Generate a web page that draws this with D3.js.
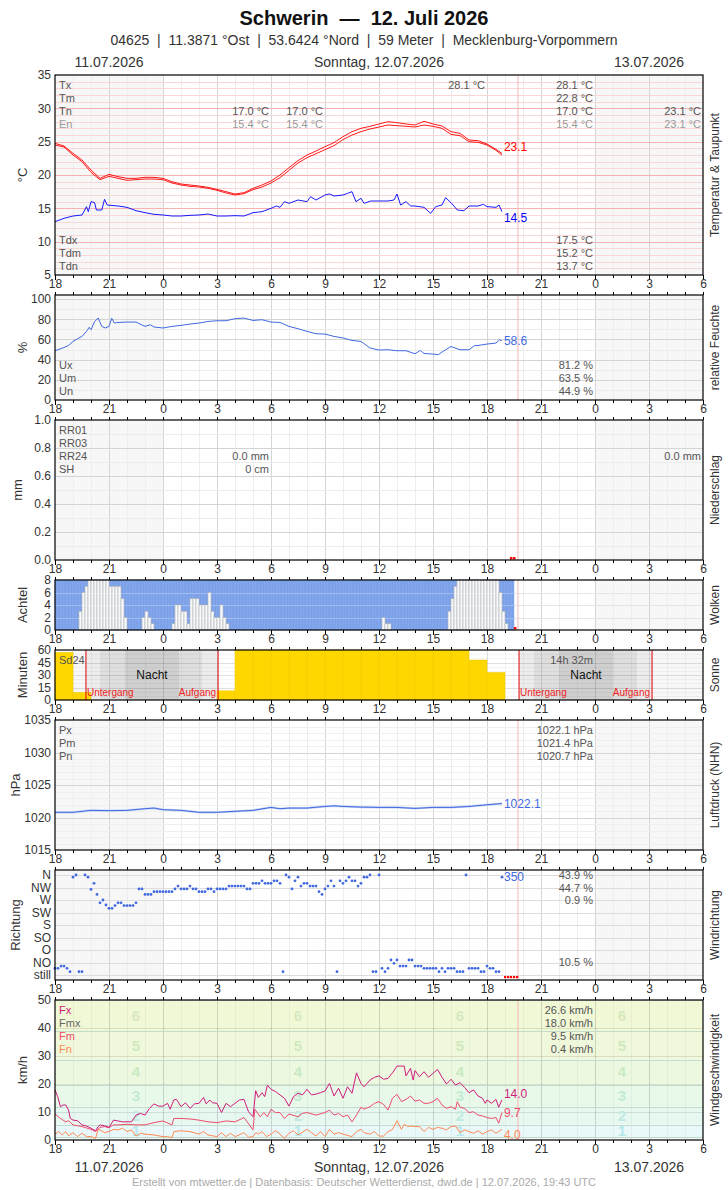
<!DOCTYPE html>
<html>
<head>
<meta charset="utf-8">
<script src="https://cdn.jsdelivr.net/npm/d3@7/dist/d3.min.js"></script>
<style>
  body { margin: 0; background: #fff; }
  text { font-family: "Liberation Sans", Arial, sans-serif; }
</style>
</head>
<body>
<div id="chart"></div>
<script>
// ---- data (hour offsets counted from 11.07.2026 18:00 UTC) ----
const tempTimes = [0,0.5,1,1.5,2,2.5,3,3.5,4,4.5,5,5.5,6,6.5,7,7.5,8,8.5,9,9.5,10,10.5,11,11.5,12,12.5,13,13.5,14,14.5,15,15.5,16,16.5,17,17.5,18,18.5,19,19.5,20,20.5,21,21.5,22,22.5,23,23.5,24,24.5,24.83]
const tempUpper = [24.75,24.35,23.25,22.25,20.75,19.5,20.1,19.75,19.5,19.5,19.65,19.65,19.5,19.0,18.65,18.5,18.35,18.15,17.85,17.5,17.15,17.35,18.0,18.5,19.1,20.0,21.1,22.15,23.0,23.6,24.25,24.85,25.75,26.5,27.0,27.3,27.65,28.0,27.85,27.65,27.5,28.05,27.65,27.35,26.5,26.25,25.25,25.15,24.65,23.85,23.25]
const tempLower = [24.5,24.2,23.0,22.0,20.4,19.3,19.8,19.5,19.2,19.3,19.4,19.4,19.3,18.8,18.5,18.3,18.2,18.0,17.7,17.3,17.0,17.2,17.8,18.2,18.8,19.6,20.7,21.8,22.6,23.2,23.8,24.4,25.3,26.0,26.5,26.9,27.2,27.5,27.4,27.3,27.2,27.5,27.3,27.0,26.1,25.9,25.0,24.9,24.5,23.7,23.0]
const dewPoint = [[0,13.0],[0.5,13.5],[1,13.85],[1.5,14.0],[1.75,15.25],[1.85,14.5],[2.0,16.0],[2.2,15.85],[2.3,14.75],[2.6,14.75],[2.75,16.35],[2.9,15.5],[3.5,15.35],[4,15.15],[4.5,14.65],[5,14.35],[5.5,14.1],[6,14.0],[6.5,13.85],[7,13.85],[7.5,13.95],[8,14.0],[8.5,14.15],[9,13.85],[9.5,13.85],[10,13.9],[10.5,13.85],[11,14.35],[11.5,14.5],[12,15.0],[12.3,15.35],[12.5,15.15],[12.75,16.0],[13,15.75],[13.5,16.25],[14,16.0],[14.2,16.75],[14.5,16.25],[15,17.0],[15.25,17.15],[15.5,16.85],[16,17.0],[16.25,17.25],[16.5,17.5],[16.72,16.0],[17.0,16.5],[17.17,15.75],[17.54,16.1],[18,16.1],[18.5,16.1],[18.83,16.25],[19,17.15],[19.2,15.5],[19.5,16.0],[19.76,15.35],[20,15.35],[20.5,15.15],[20.87,14.25],[21.15,15.25],[21.5,15.5],[21.7,16.6],[22,15.85],[22.35,14.75],[22.72,14.65],[23,15.35],[23.5,15.35],[23.8,15.6],[24,15.25],[24.5,15.15],[24.67,15.5],[24.83,14.5]]
const humidity = [[0,48.8],[0.5,52],[0.75,54],[1,58],[1.25,60.7],[1.5,63],[1.75,68],[1.9,72],[2.0,69.6],[2.2,77.8],[2.4,81.2],[2.6,72.9],[2.8,71.3],[3.0,72.9],[3.15,81.0],[3.3,76.2],[3.5,76.8],[4,77.2],[4.5,77.2],[5,72.9],[5.3,74.5],[5.5,72.3],[6,71.3],[6.5,72.9],[7,73.9],[7.5,75.2],[8,76.2],[8.5,77.8],[9,78.5],[9.5,78.5],[10,80.5],[10.5,81.2],[11,78.8],[11.5,79.5],[12,77.2],[12.5,76.8],[13,72.9],[13.5,70.6],[14,68],[14.5,65.6],[15,65.3],[15.5,63],[16,61.4],[16.5,59],[17,58],[17.5,51.5],[18,49.5],[18.5,49.8],[19,48.8],[19.5,48.8],[20,45.8],[20.3,49.1],[20.5,46.1],[21,45.5],[21.3,44.9],[21.5,47.5],[22,53],[22.5,49.8],[23,49.8],[23.3,53.8],[23.5,54],[24,55.4],[24.5,56.4],[24.7,59.7],[24.83,58.6]]
const rainMissing = [25.33, 25.5]
// cloud cover in eighths, 10-minute steps from 18:00
const cloudCover = [0,0,0,0,0,0,0,0,3,6, 7,8,8,8,8,8,8,8,7,7, 7,7,5,2,0,0,0,0,0,2, 3,2,1,0,0,0,0,0,0,1, 4,4,3,3,1,5,5,5,4,4, 4,6,3,2,2,4,2,1,0,0,
  0,0,0,0,0,0,0,0,0,0, 0,0,0,0,0,0,0,0,0,0, 0,0,0,0,0,0,0,0,0,0, 0,0,0,0,0,0,0,0,0,0, 0,0,0,0,0,0,0,0,0,2, 1,1,0,0,0,0,0,0,0,0,
  0,0,0,0,0,0,0,0,0,0, 0,3,5,7,8,8,8,8,8,8, 8,8,8,8,8,8,8,8,6,3, 1,0,0]
const cloudMissing = [25.55]
// sunshine minutes per hour from 18:00
const sunMinutes = [57,9,0,0,0,0,0,0,0,11,60,60,60,60,60,60,60,60,60,60,60,60,60,48,33]
const sunsets = [1.72, 25.78]
const civilDusk = [2.5, 26.61]
const nauticalDusk = [3.89, 28.0]
const nauticalDawn = [6.89, 31.0]
const civilDawn = [8.17, 32.33]
const sunrises = [9.06, 33.17]
const pressure = [[0,1020.8],[1,1020.8],[2,1021.1],[3,1021.05],[4,1021.1],[5,1021.35],[5.5,1021.45],[6,1021.2],[7,1021.1],[8,1020.8],[9,1020.8],[10,1020.95],[11,1021.1],[12,1021.55],[12.5,1021.35],[13,1021.45],[14,1021.45],[15,1021.7],[15.5,1021.8],[16,1021.7],[17,1021.6],[18,1021.55],[19,1021.55],[20,1021.4],[21,1021.55],[22,1021.55],[23,1021.7],[24,1021.95],[24.83,1022.15]]
// wind direction in degrees, 10-minute steps from 18:00
const windDir = [24,24,32,32,24,12,352,360,12,12, 360,352,308,330,290,260,270,252,240,240,
  250,260,260,250,250,250,250,260,310,310, 290,290,290,300,300,300,300,300,300,300,
  310,320,310,310,310,320,310,310,300,300, 300,310,310,300,310,310,310,310,320,320,
  320,320,320,320,310,310,330,330,330,339, 330,330,330,339,339,330,12,360,352,310,
  339,352,320,330,330,320,320,320,300,290, 310,320,339,320,12,339,330,339,352,339,
  339,320,330,352,352,360,12,12,360,24, 12,24,54,42,54,32,32,32,54,54,
  32,32,32,24,24,24,24,24,12,24, 12,24,24,24,12,12,12,360,24,24,
  24,24,12,12,32,24,24,12,12,352]
const dirMissing = [25.0, 25.17, 25.33, 25.5, 25.67]
const dirLabels = ["still","NO","O","SO","S","SW","W","NW","N"]
const gustFx = [[0,17.9],[0.15,15.5],[0.3,11.9],[0.45,12.5],[0.6,12.5],[0.75,10.7],[0.85,7.7],[1,7.1],[1.25,6.9],[1.5,5.4],[1.75,5.0],[2,4.2],[2.25,3.3],[2.4,4.8],[2.5,5.4],[2.75,5.1],[3,4.5],[3.25,7.1],[3.5,6.8],[3.75,6.5],[4,6.5],[4.25,6.5],[4.5,8.9],[4.75,9.5],[5,8.9],[5.25,11.3],[5.5,12.9],[5.75,12.1],[6,12.1],[6.25,13.1],[6.4,11.0],[6.6,14.3],[6.75,14.5],[7,11.9],[7.25,13.3],[7.5,11.3],[7.75,12.9],[8,13.1],[8.25,15.2],[8.4,12.9],[8.6,14.3],[8.75,13.3],[9,13.1],[9.25,9.8],[9.5,13.1],[9.75,11.9],[10,13.1],[10.25,14.3],[10.5,14.5],[10.75,10.1],[11,8.3],[11.15,17.6],[11.3,15.2],[11.5,16.9],[11.65,15.5],[11.8,19.6],[12,18.1],[12.25,17.3],[12.5,16.1],[12.75,14.9],[13,12.1],[13.25,15.5],[13.5,16.7],[13.75,16.1],[14,18.1],[14.25,16.1],[14.5,16.4],[14.75,16.9],[15,17.5],[15.25,20.2],[15.5,15.7],[15.75,18.5],[16,14.9],[16.25,19.0],[16.5,16.7],[16.75,24.0],[17,20.2],[17.17,19.0],[17.5,21.4],[17.75,22.4],[18,22.9],[18.25,21.7],[18.5,22.0],[18.75,24.0],[19,26.4],[19.25,26.4],[19.4,26.4],[19.5,22.9],[19.75,25.6],[19.9,21.4],[20,24.8],[20.25,22.6],[20.5,24.4],[20.75,22.4],[21,23.8],[21.25,25.2],[21.5,22.4],[21.75,20.0],[22,21.7],[22.25,19.6],[22.5,20.5],[22.75,18.8],[23,16.9],[23.25,17.9],[23.5,15.7],[23.75,14.9],[23.9,13.1],[24,14.3],[24.25,13.1],[24.5,14.5],[24.65,11.7],[24.83,14.3]]
const meanFm = [[0,9.3],[0.3,7.7],[0.6,6.5],[0.75,6.9],[1,5.4],[1.5,4.8],[2,3.8],[2.25,3.0],[2.5,4.5],[2.75,4.8],[3,4.4],[3.25,5.4],[3.5,5.4],[4,5.6],[4.5,5.4],[5,5.4],[5.5,6.2],[6,6.8],[6.5,5.4],[6.6,7.7],[7,7.7],[7.5,7.5],[8,7.1],[8.5,6.5],[9,6.2],[9.5,6.8],[10,6.5],[10.5,8.0],[11,3.6],[11.1,11.0],[11.4,8.3],[11.6,9.8],[11.8,8.3],[12,11.0],[12.25,9.8],[12.5,9.8],[12.75,7.7],[13,9.3],[13.5,8.3],[13.75,9.5],[14,9.8],[14.5,8.9],[15,9.8],[15.25,10.7],[15.5,8.9],[15.75,9.5],[16,8.3],[16.25,8.9],[16.5,6.5],[16.75,8.9],[17,11.7],[17.17,11.0],[17.5,11.9],[17.75,13.1],[18,13.7],[18.25,12.7],[18.5,10.7],[18.75,14.9],[19,16.3],[19.25,13.7],[19.5,14.5],[19.75,15.7],[20,13.9],[20.25,14.3],[20.5,13.1],[20.75,13.1],[21,13.7],[21.25,14.9],[21.5,12.5],[21.75,11.3],[22,11.9],[22.25,11.0],[22.35,13.7],[22.5,11.7],[22.75,11.3],[23,9.8],[23.25,10.1],[23.5,8.9],[23.75,8.6],[24,8.0],[24.25,7.7],[24.5,8.0],[24.65,6.0],[24.83,9.8]]
const minFn = [[0,2.1],[0.2,3.0],[0.4,1.8],[0.6,3.0],[0.75,1.5],[1,2.6],[1.25,1.2],[1.5,2.4],[1.75,1.2],[2,1.2],[2.25,0.6],[2.4,3.8],[2.5,3.6],[2.75,2.6],[3,3.0],[3.25,3.8],[3.5,3.6],[3.75,4.2],[4,3.0],[4.25,3.6],[4.5,1.4],[4.75,2.4],[5,2.1],[5.5,1.8],[6,1.2],[6.25,1.2],[6.5,0.8],[6.6,3.0],[7,3.3],[7.5,3.0],[8,2.1],[8.25,3.0],[8.5,1.8],[9,1.2],[9.25,2.6],[9.5,1.2],[9.75,2.4],[10,1.2],[10.5,2.6],[10.75,1.0],[11,1.2],[11.15,2.6],[11.3,2.1],[11.5,3.0],[11.75,1.2],[12,2.1],[12.25,3.3],[12.5,2.1],[12.75,0.6],[13,2.4],[13.25,3.3],[13.5,1.8],[14,3.8],[14.25,2.6],[14.5,1.4],[14.75,3.0],[15,1.2],[15.25,3.8],[15.5,2.1],[15.75,2.6],[16,2.1],[16.5,1.2],[16.75,3.0],[17,3.8],[17.17,2.6],[17.5,2.1],[17.75,3.0],[18,1.4],[18.25,1.4],[18.5,3.0],[18.75,3.8],[19,6.9],[19.25,3.8],[19.4,5.6],[19.6,4.8],[19.75,5.0],[20,4.8],[20.25,4.8],[20.5,3.0],[20.75,4.5],[21,3.8],[21.25,4.5],[21.5,4.2],[21.75,3.6],[22,4.8],[22.25,5.0],[22.5,2.6],[22.75,3.6],[23,3.0],[23.25,2.4],[23.5,3.3],[23.75,2.1],[24,3.0],[24.25,3.6],[24.5,2.4],[24.83,3.8]]
const beaufortEdges = [0, 1.1, 5.5, 11.9, 19.7, 28.7, 38.8, 49.9, 50]
const beaufortLabelHours = [4.5, 13.5, 22.5, 31.5]
const nowHour = 25.72

// layout
const t0 = Date.UTC(2026, 6, 11, 18)
const hr = h => new Date(t0 + h * 3600e3)
const X0 = 55, X1 = 703
const x = d3.scaleUtc().domain([hr(0), hr(36)]).range([X0, X1])
const grayRanges = [[0, 6], [30, 36]]
const FONT = '"Liberation Sans", Arial, sans-serif'

buildChart()

function buildChart() {
    let svg = d3.select("#chart").append("svg")
        .attr("width", 728).attr("height", 1190)

    // header
    svg.append("text").attr("x", 364).attr("y", 25).attr("text-anchor", "middle")
        .attr("font-size", 20).attr("font-weight", "bold").attr("fill", "#111")
        .text("Schwerin\u00a0\u00a0—\u00a0\u00a012. Juli 2026")
    svg.append("text").attr("x", 364).attr("y", 45).attr("text-anchor", "middle")
        .attr("font-size", 14).attr("fill", "#333")
        .text("04625\u00a0\u00a0|\u00a0\u00a011.3871 °Ost\u00a0\u00a0|\u00a0\u00a053.6424 °Nord\u00a0\u00a0|\u00a0\u00a059 Meter\u00a0\u00a0|\u00a0\u00a0Mecklenburg-Vorpommern")
    dateRow(svg, 67)
    dateRow(svg, 1172)
    svg.append("text").attr("x", 364).attr("y", 1186).attr("text-anchor", "middle")
        .attr("font-size", 11).attr("fill", "#aaa")
        .text("Erstellt von mtwetter.de | Datenbasis: Deutscher Wetterdienst, dwd.de | 12.07.2026, 19:43 UTC")

    drawTemp(svg)
    drawHumidity(svg)
    drawRain(svg)
    drawClouds(svg)
    drawSun(svg)
    drawPressure(svg)
    drawDirection(svg)
    drawWind(svg)
}

function dateRow(svg, y) {
    [[3, "11.07.2026"], [18, "Sonntag, 12.07.2026"], [33, "13.07.2026"]].forEach(([h, s]) => {
        svg.append("text").attr("x", x(hr(h))).attr("y", y).attr("text-anchor", "middle")
            .attr("font-size", 14).attr("fill", "#333").text(s)
    })
}

// ---- panel helpers ----
function panel(svg, top, bottom, domain, shade = true) {
    let c = { top, bottom }
    c.y = d3.scaleLinear().domain(domain).range([bottom, top])
    c.g = svg.append("g")
    c.g.append("rect").attr("x", X0).attr("y", top).attr("width", X1 - X0).attr("height", bottom - top).attr("fill", "#fff")
    if (shade) grayRanges.forEach(([a, b]) => {
        c.g.append("rect").attr("x", x(hr(a))).attr("y", top).attr("width", x(hr(b)) - x(hr(a)))
            .attr("height", bottom - top).attr("fill", "#f7f7f7")
    })
    return c
}

function hGrid(c, values, color) {
    c.g.append("g").selectAll("line").data(values).enter().append("line")
        .attr("x1", X0).attr("x2", X1)
        .attr("y1", d => Math.round(c.y(d)) + 0.5).attr("y2", d => Math.round(c.y(d)) + 0.5)
        .attr("stroke", color).attr("stroke-width", 1)
}

function vGrid(c, minor = "#eeeeee", major = "#d6d6d6") {
    let hours = d3.range(1, 36)
    c.g.append("g").selectAll("line").data(hours).enter().append("line")
        .attr("x1", d => x(hr(d)) + 0.5).attr("x2", d => x(hr(d)) + 0.5)
        .attr("y1", c.top).attr("y2", c.bottom)
        .attr("stroke", d => d % 3 === 0 ? major : minor)
}

function nowLine(c) {
    c.g.append("line").attr("x1", x(hr(nowHour))).attr("x2", x(hr(nowHour)))
        .attr("y1", c.top).attr("y2", c.bottom).attr("stroke", "#f6b6b6")
}

function frame(c, topTicks = true) {
    c.g.append("rect").attr("x", X0).attr("y", c.top).attr("width", X1 - X0).attr("height", c.bottom - c.top)
        .attr("fill", "none").attr("stroke", "#000").attr("stroke-width", 1.2)
    let minor = d3.axisBottom(x).ticks(d3.utcHour.every(1)).tickFormat("").tickSize(3)
    let major = d3.axisBottom(x).ticks(d3.utcHour.every(3)).tickFormat(d3.utcFormat("%-H")).tickSize(5).tickPadding(-1)
    let gm = c.g.append("g").attr("transform", `translate(0,${c.bottom})`).call(minor)
    gm.select(".domain").remove()
    let ax = c.g.append("g").attr("transform", `translate(0,${c.bottom})`).call(major)
    ax.select(".domain").remove()
    ax.selectAll("text").attr("font-size", 12).attr("fill", "#333").attr("font-family", FONT)
    if (topTicks) {
        let tm = c.g.append("g").attr("transform", `translate(0,${c.top})`)
            .call(d3.axisTop(x).ticks(d3.utcHour.every(1)).tickFormat("").tickSize(3))
        tm.select(".domain").remove()
    }
}

function yAxis(c, values, fmt) {
    let ax = c.g.append("g").attr("transform", `translate(${X0},0)`)
        .call(d3.axisLeft(c.y).tickValues(values).tickFormat(fmt).tickSize(0).tickPadding(4))
    ax.select(".domain").remove()
    ax.selectAll("text").attr("font-size", 12).attr("fill", "#333").attr("font-family", FONT)
}

function titles(c, left, leftX, right) {
    let mid = (c.top + c.bottom) / 2
    c.g.append("text").attr("transform", `translate(${leftX},${mid}) rotate(-90)`).attr("text-anchor", "middle")
        .attr("dy", "0.35em").attr("font-size", 13).attr("fill", "#333").text(left)
    c.g.append("text").attr("transform", `translate(715,${mid}) rotate(-90)`).attr("text-anchor", "middle")
        .attr("dy", "0.35em").attr("font-size", 12).attr("fill", "#333").text(right)
}

function note(c, s, px, py, anchor = "start", color = "#555", size = 11) {
    c.g.append("text").attr("x", px).attr("y", py).attr("text-anchor", anchor)
        .attr("font-size", size).attr("fill", color).text(s)
}

function pathOf(c, pts, color, width = 1) {
    let line = d3.line().x(d => x(hr(d[0]))).y(d => c.y(d[1]))
    c.g.append("path").datum(pts).attr("d", line).attr("fill", "none")
        .attr("stroke", color).attr("stroke-width", width).attr("stroke-linejoin", "round")
}

function endLabel(c, pts, s, color, dy) {
    let last = pts[pts.length - 1]
    c.g.append("text").attr("x", x(hr(last[0])) + 2).attr("y", c.y(last[1]) + dy)
        .attr("font-size", 12).attr("fill", color).text(s)
}

// ---- panels ----
function drawTemp(svg) {
    let c = panel(svg, 75, 275, [5, 35])
    vGrid(c)
    hGrid(c, d3.range(6, 35).filter(v => v % 5), "#fbd6d6")
    hGrid(c, [10, 15, 20, 25, 30], "#f5b2b2")
    nowLine(c)
    let upper = tempTimes.map((t, i) => [t, tempUpper[i]])
    let lower = tempTimes.map((t, i) => [t, tempLower[i]])
    pathOf(c, upper, "#ff0000", 0.9)
    pathOf(c, lower, "#ff0000", 0.9)
    pathOf(c, dewPoint, "#0000ff", 0.9)
    endLabel(c, upper, "23.1", "#ff0000", -2)
    endLabel(c, dewPoint, "14.5", "#0000ff", 10)

    note(c, "Tx", 59, 89); note(c, "Tm", 59, 102); note(c, "Tn", 59, 115); note(c, "En", 59, 128, "start", "#999")
    note(c, "17.0 °C", 269, 115, "end"); note(c, "15.4 °C", 269, 128, "end", "#999")
    note(c, "17.0 °C", 323, 115, "end"); note(c, "15.4 °C", 323, 128, "end", "#999")
    note(c, "28.1 °C", 485, 89, "end")
    note(c, "28.1 °C", 593, 89, "end"); note(c, "22.8 °C", 593, 102, "end")
    note(c, "17.0 °C", 593, 115, "end"); note(c, "15.4 °C", 593, 128, "end", "#999")
    note(c, "23.1 °C", 701, 115, "end"); note(c, "23.1 °C", 701, 128, "end", "#999")
    note(c, "Tdx", 59, 244); note(c, "Tdm", 59, 257); note(c, "Tdn", 59, 270)
    note(c, "17.5 °C", 593, 244, "end"); note(c, "15.2 °C", 593, 257, "end"); note(c, "13.7 °C", 593, 270, "end")

    frame(c, false)
    yAxis(c, [5, 10, 15, 20, 25, 30, 35], d3.format("d"))
    titles(c, "°C", 22, "Temperatur & Taupunkt")
}

function drawHumidity(svg) {
    let c = panel(svg, 295, 400, [0, 104])
    vGrid(c)
    hGrid(c, [10, 30, 50, 70, 90], "#ececec")
    hGrid(c, [20, 40, 60, 80, 100], "#d4d4d4")
    nowLine(c)
    pathOf(c, humidity, "#4169e1")
    endLabel(c, humidity, "58.6", "#4169e1", 4)
    note(c, "Ux", 59, 369); note(c, "Um", 59, 382); note(c, "Un", 59, 395)
    note(c, "81.2 %", 593, 369, "end"); note(c, "63.5 %", 593, 382, "end"); note(c, "44.9 %", 593, 395, "end")
    frame(c)
    yAxis(c, [0, 20, 40, 60, 80, 100], d3.format("d"))
    titles(c, "%", 22, "relative Feuchte")
}

function drawRain(svg) {
    let c = panel(svg, 420, 560, [0, 1])
    vGrid(c)
    hGrid(c, [0.1, 0.3, 0.5, 0.7, 0.9], "#ececec")
    hGrid(c, [0.2, 0.4, 0.6, 0.8], "#d4d4d4")
    nowLine(c)
    c.g.selectAll(".miss").data(rainMissing).enter().append("rect")
        .attr("x", d => x(hr(d)) - 1).attr("y", c.bottom - 3).attr("width", 2.5).attr("height", 2.5).attr("fill", "#ff0000")
    note(c, "RR01", 59, 434); note(c, "RR03", 59, 447); note(c, "RR24", 59, 460); note(c, "SH", 59, 473)
    note(c, "0.0 mm", 269, 460, "end"); note(c, "0 cm", 269, 473, "end")
    note(c, "0.0 mm", 701, 460, "end")
    frame(c)
    yAxis(c, [0, 0.2, 0.4, 0.6, 0.8, 1.0], d3.format(".1f"))
    titles(c, "mm", 17, "Niederschlag")
}

function drawClouds(svg) {
    let c = panel(svg, 580, 630, [0, 8])
    vGrid(c)
    hGrid(c, [2, 4, 6], "#dddddd")
    nowLine(c)
    let step = x(hr(1 / 6)) - x(hr(0))
    let bars = c.g.append("g")
    cloudCover.forEach((v, i) => {
        let bx = x(hr(i / 6))
        bars.append("rect").attr("x", bx).attr("y", c.top).attr("width", step).attr("height", c.bottom - c.top)
            .attr("fill", "#7ba0e8").attr("stroke", "#8fb0ee").attr("stroke-width", 0.5)
    })
    cloudCover.forEach((v, i) => {
        if (v <= 0) return
        let bx = x(hr(i / 6))
        bars.append("rect").attr("x", bx).attr("y", c.y(v)).attr("width", step)
            .attr("height", c.bottom - c.y(v)).attr("fill", "#f7f8fb").attr("stroke", "#b0b0b0").attr("stroke-width", 0.6)
    })
    hGrid(c, [2, 4, 6], "rgba(255,255,255,0.25)")
    c.g.selectAll(".miss").data(cloudMissing).enter().append("rect")
        .attr("x", d => x(hr(d)) - 1).attr("y", c.bottom - 3).attr("width", 2.5).attr("height", 2.5).attr("fill", "#ff0000")
    frame(c)
    yAxis(c, [0, 2, 4, 6, 8], d3.format("d"))
    titles(c, "Achtel", 22, "Wolken")
}

function drawSun(svg) {
    let c = panel(svg, 650, 700, [0, 60])
    let band = (a, b, col) => c.g.append("rect").attr("x", x(hr(a))).attr("y", c.top)
        .attr("width", x(hr(b)) - x(hr(a))).attr("height", c.bottom - c.top).attr("fill", col)
    sunsets.forEach((s, i) => {
        band(s, sunrises[i], "#ececec")
        band(civilDusk[i], civilDawn[i], "#dedede")
        band(nauticalDusk[i], nauticalDawn[i], "#cfcfcf")
    })
    vGrid(c, "rgba(0,0,0,0.04)", "rgba(0,0,0,0.12)")
    hGrid(c, [5, 10, 20, 25, 35, 40, 50, 55], "rgba(0,0,0,0.04)")
    hGrid(c, [15, 30, 45], "rgba(0,0,0,0.12)")
    let step = x(hr(1)) - x(hr(0))
    sunMinutes.forEach((m, i) => {
        if (m <= 0) return
        c.g.append("rect").attr("x", x(hr(i))).attr("y", c.y(m)).attr("width", step)
            .attr("height", c.bottom - c.y(m)).attr("fill", "#ffd700").attr("stroke", "#eec900").attr("stroke-width", 0.5)
    })
    sunsets.forEach((s, i) => {
        let xs = x(hr(s)), xr = x(hr(sunrises[i]))
        c.g.append("line").attr("x1", xs).attr("x2", xs).attr("y1", c.top).attr("y2", c.bottom).attr("stroke", "#e00000")
        c.g.append("line").attr("x1", xr).attr("x2", xr).attr("y1", c.top).attr("y2", c.bottom).attr("stroke", "#e00000")
        note(c, "Untergang", xs + 1, 696, "start", "#ee2222", 10)
        note(c, "Aufgang", xr - 2, 696, "end", "#ee2222", 10)
        let mid = x(hr((nauticalDusk[i] + nauticalDawn[i]) / 2))
        note(c, "Nacht", mid, 679, "middle", "#111", 12)
    })
    note(c, "Sd24", 59, 664)
    note(c, "14h 32m", 593, 664, "end")
    frame(c)
    yAxis(c, [0, 15, 30, 45, 60], d3.format("d"))
    titles(c, "Minuten", 22, "Sonne")
}

function drawPressure(svg) {
    let c = panel(svg, 720, 850, [1015, 1035])
    vGrid(c)
    hGrid(c, d3.range(1016, 1035).filter(v => v % 5), "#efefef")
    hGrid(c, [1020, 1025, 1030], "#d4d4d4")
    nowLine(c)
    pathOf(c, pressure, "#c3d1f5", 2.2)
    pathOf(c, pressure, "#4169e1", 1)
    endLabel(c, pressure, "1022.1", "#4169e1", 4)
    note(c, "Px", 59, 734); note(c, "Pm", 59, 747); note(c, "Pn", 59, 760)
    note(c, "1022.1 hPa", 593, 734, "end"); note(c, "1021.4 hPa", 593, 747, "end"); note(c, "1020.7 hPa", 593, 760, "end")
    frame(c)
    yAxis(c, [1015, 1020, 1025, 1030, 1035], d3.format("d"))
    titles(c, "hPa", 15, "Luftdruck (NHN)")
}

function drawDirection(svg) {
    let c = panel(svg, 870, 980, [-18, 378])
    vGrid(c)
    hGrid(c, d3.range(0, 361, 45), "#dddddd")
    nowLine(c)
    c.g.append("g").selectAll("circle").data(windDir).enter().append("circle")
        .attr("cx", (d, i) => x(hr(i / 6))).attr("cy", d => c.y(d)).attr("r", 1.4).attr("fill", "#4169e1")
    c.g.append("text").attr("x", x(hr((windDir.length - 1) / 6)) + 2).attr("y", c.y(windDir[windDir.length - 1]) + 4)
        .attr("font-size", 12).attr("fill", "#4169e1").text("350")
    c.g.selectAll(".miss").data(dirMissing).enter().append("rect")
        .attr("x", d => x(hr(d)) - 1).attr("y", c.bottom - 4).attr("width", 2.2).attr("height", 2.2).attr("fill", "#ff0000")
    note(c, "43.9 %", 593, 879, "end"); note(c, "44.7 %", 593, 892, "end")
    note(c, "0.9 %", 593, 904, "end"); note(c, "10.5 %", 593, 966, "end")
    frame(c)
    yAxis(c, d3.range(0, 361, 45), d => dirLabels[d / 45])
    titles(c, "Richtung", 15, "Windrichtung")
}

function drawWind(svg) {
    let c = panel(svg, 1000, 1140, [0, 50], false)
    let fills = ["#f1fafa", "#e9f8f8", "#e7f8f1", "#e8f8e9", "#ecf8e0", "#eff8da", "#f1f8d6", "#f1f8d6"]
    let labelCols = ["#c8eef0", "#b8e8ec", "#bfeadf", "#c3ebcf", "#c9eac2", "#d0e9bf", "#d6e9bd"]
    beaufortEdges.slice(0, -1).forEach((lo, i) => {
        let hi = beaufortEdges[i + 1]
        c.g.append("rect").attr("x", X0).attr("y", c.y(hi)).attr("width", X1 - X0)
            .attr("height", c.y(lo) - c.y(hi)).attr("fill", fills[i])
    })
    vGrid(c, "rgba(0,0,0,0.04)", "rgba(0,0,0,0.15)")
    hGrid(c, [10, 20, 30, 40], "rgba(0,0,0,0.1)")
    hGrid(c, beaufortEdges.slice(1, -1), "#c2dccb")
    beaufortLabelHours.forEach(h => {
        for (let b = 1; b <= 6; b++) {
            let mid = (beaufortEdges[b] + beaufortEdges[b + 1]) / 2
            c.g.append("text").attr("x", x(hr(h))).attr("y", c.y(mid)).attr("dy", "0.35em")
                .attr("text-anchor", "middle").attr("font-size", 15).attr("font-weight", "bold")
                .attr("fill", labelCols[b]).text(b)
        }
    })
    nowLine(c)
    pathOf(c, minFn, "#ff8a55")
    pathOf(c, meanFm, "#ee4d6c")
    pathOf(c, gustFx, "#d01c7c")
    endLabel(c, gustFx, "14.0", "#d01c7c", -2)
    endLabel(c, meanFm, "9.7", "#ee4d6c", 4)
    endLabel(c, minFn, "4.0", "#ff8a55", 10)
    note(c, "Fx", 59, 1014, "start", "#d01c7c"); note(c, "Fmx", 59, 1027, "start", "#666")
    note(c, "Fm", 59, 1040, "start", "#ee4d6c"); note(c, "Fn", 59, 1053, "start", "#ff8a55")
    note(c, "26.6 km/h", 593, 1014, "end"); note(c, "18.0 km/h", 593, 1027, "end")
    note(c, "9.5 km/h", 593, 1040, "end"); note(c, "0.4 km/h", 593, 1053, "end")
    frame(c)
    yAxis(c, [0, 10, 20, 30, 40, 50], d3.format("d"))
    titles(c, "km/h", 22, "Windgeschwindigkeit")
}
</script>
</body>
</html>
